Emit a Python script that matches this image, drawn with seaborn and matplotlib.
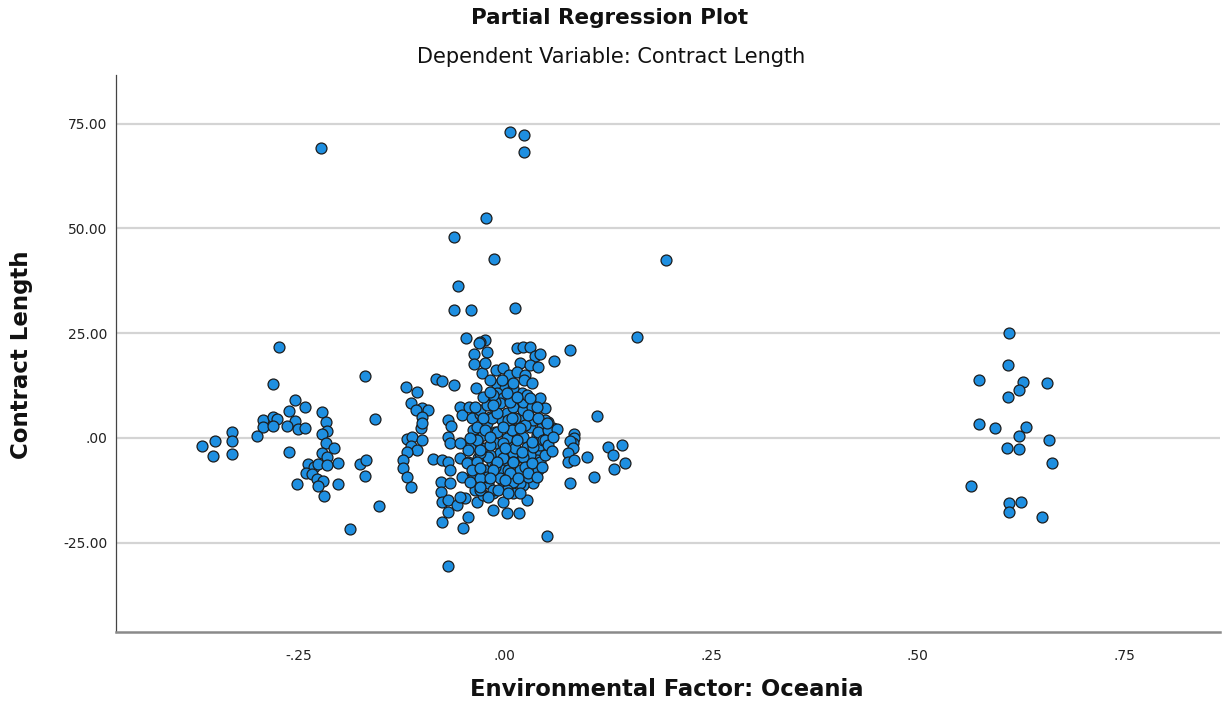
import matplotlib
matplotlib.use("Agg")
import matplotlib.pyplot as plt
import seaborn as sns
import pandas as pd
from matplotlib.ticker import FixedLocator, FuncFormatter

# ---- data ----
oceania_resid = [
    # outliers / upper
    -0.223, 0.006, 0.023, 0.023, -0.023, -0.062, -0.013, 0.195, -0.057, -0.062,
    -0.041, 0.012, 0.160, -0.047, -0.024, -0.030, -0.274, 0.079, -0.169,
    # right group
    0.610, 0.609, 0.574, 0.627, 0.656, 0.623, 0.609, 0.574, 0.593, 0.631,
    0.623, 0.659, 0.608, 0.623, 0.663, 0.564, 0.610, 0.625, 0.610, 0.651,
    # left group
    -0.281, -0.254, -0.242, -0.262, -0.222, -0.217, -0.293, -0.281, -0.276, -0.293,
    -0.281, -0.254, -0.264, -0.251, -0.242, -0.215, -0.222, -0.300, -0.330, -0.330,
    -0.351, -0.367, -0.354, -0.330, -0.262, -0.217, -0.207, -0.222, -0.215, -0.239,
    -0.231, -0.226, -0.215, -0.202, -0.241, -0.234, -0.228, -0.220, -0.226, -0.252,
    -0.202, -0.219, -0.188, -0.176, -0.168, -0.169, -0.157, -0.153,
    # middle-left band
    -0.031, -0.022, -0.038, -0.038, -0.028, -0.084, -0.076, -0.062, -0.035, -0.120,
    -0.107, -0.114, -0.100, -0.093, -0.108, -0.100, -0.102, -0.100, -0.119, -0.113,
    -0.100, -0.114, -0.107, -0.119, -0.123, -0.123, -0.119, -0.114, -0.087, -0.076,
    -0.069, -0.067, -0.054, -0.045, -0.069, -0.065, -0.069, -0.067, -0.054, -0.052,
    -0.044, -0.040, -0.030, -0.039, -0.033, -0.042, -0.054, -0.077, -0.067, -0.077,
    -0.076, -0.069, -0.058, -0.048, -0.069, -0.076, -0.045, -0.051, -0.069, -0.052,
    -0.039, -0.036, -0.034, -0.054, -0.042,
    # central cluster
    0.015, 0.022, 0.030, 0.036, 0.042, 0.018, 0.059, -0.011, -0.002, 0.005,
    0.015, 0.024, 0.023, -0.010, 0.000, -0.010, 0.010, -0.002, 0.010, 0.021,
    0.042, 0.030, 0.048, 0.058, 0.052, 0.057, 0.054, 0.042, 0.040, 0.034,
    0.027, 0.017, 0.002, -0.015, -0.002, 0.010, -0.015, -0.027, -0.021, -0.002,
    0.022, 0.010, -0.008, -0.024, 0.027, 0.002, -0.016, -0.033, 0.018, 0.039,
    -0.006, -0.024, 0.010, 0.027, 0.042, -0.012, 0.002, 0.022, 0.039, -0.027,
    -0.012, 0.010, 0.030, 0.045, -0.034, -0.022, -0.004, 0.015, 0.034, 0.048,
    -0.018, 0.002, 0.022, -0.030, -0.012, 0.010, -0.006, -0.018, 0.021, 0.022,
    0.010, 0.030, -0.018, -0.002, 0.018, 0.018, 0.006,
    0.008, -0.012, 0.022, 0.033, -0.016, 0.004, 0.012, 0.024, -0.024, -0.010,
    0.008, 0.040, 0.046, -0.018, -0.002, 0.012, 0.034, -0.021, -0.002, 0.010,
    0.022, 0.042, -0.012, 0.004, 0.024, -0.022, -0.006, 0.010, 0.028, -0.015,
    0.002, -0.030, -0.030, -0.030, -0.034, -0.022, -0.015, 0.010, 0.027, -0.042,
    -0.045, -0.046, -0.034, -0.040,
    -0.036, -0.027, -0.010, 0.008, 0.028, 0.040, 0.052, -0.002, 0.018, -0.018,
    0.015, 0.033, 0.048, -0.030, 0.000, 0.021, 0.048, -0.010, 0.010, 0.033,
    -0.030, -0.015, 0.006, 0.028, -0.018, 0.000, 0.016, -0.008, 0.004, -0.021,
    0.018, -0.030, 0.039, 0.045, 0.052, 0.039, 0.006, -0.015, -0.027, 0.015,
    0.030, 0.002, -0.018, -0.004, 0.010, -0.018, 0.033, -0.024, 0.030, 0.040,
    # right of centre
    0.111, 0.051, 0.063, 0.058, 0.084, 0.084, 0.082, 0.079, 0.082, 0.057,
    0.077, 0.077, 0.084, 0.099, 0.125, 0.142, 0.131, 0.145, 0.132, 0.108,
    0.079, 0.051,
]

contract_resid = [
    # outliers / upper
    69.2, 73.0, 72.3, 68.3, 52.5, 48.0, 42.7, 42.5, 36.3, 30.5,
    30.5, 31.0, 24.1, 23.9, 23.4, 22.9, 21.7, 21.0, 14.8,
    # right group
    25.0, 17.4, 13.8, 13.4, 13.1, 11.5, 9.8, 3.3, 2.4, 2.6,
    0.5, -0.5, -2.4, -2.6, -6.0, -11.5, -15.5, -15.3, -17.7, -18.9,
    # left group
    12.9, 9.1, 7.4, 6.4, 6.2, 3.8, 4.3, 5.0, 4.5, 2.6,
    2.9, 4.1, 2.9, 2.1, 2.4, 1.7, 1.0, 0.5, 1.4, -0.7,
    -0.7, -1.9, -4.3, -3.8, -3.3, -1.2, -2.4, -3.6, -4.5, -6.2,
    -6.9, -6.2, -6.4, -6.0, -8.4, -8.6, -9.8, -10.3, -11.5, -11.0,
    -11.0, -13.8, -21.7, -6.2, -5.3, -9.1, 4.5, -16.2,
    # middle-left band
    22.7, 20.5, 20.0, 17.7, 15.5, 14.1, 13.6, 12.6, 11.9, 12.2,
    11.0, 8.4, 7.2, 6.7, 6.7, 5.0, 2.4, 3.6, -0.2, 0.2,
    -0.5, -1.9, -2.9, -3.3, -5.3, -7.2, -9.3, -11.7, -5.0, -5.3,
    -5.7, -7.6, -4.8, -5.7, 4.3, 2.9, 0.2, -1.2, 7.4, 5.5,
    7.4, 4.8, 5.7, 1.9, -0.2, -2.1, -1.2, -10.5, -10.7, -12.9,
    -15.3, -14.8, -16.0, -14.3, -17.7, -20.0, -18.9, -21.5, -30.5, -9.3,
    -8.4, -12.4, -15.3, -14.1, -10.5,
    # central cluster
    21.5, 21.7, 21.7, 19.6, 20.0, 17.9, 18.4, 16.2, 16.7, 15.0,
    15.8, 15.0, 13.8, 12.6, 11.9, 10.7, 11.0, 9.5, 9.3, 8.8,
    9.5, 7.4, 7.2, 2.4, 3.8, 0.2, -2.9, -4.1, -7.6, -10.7,
    -14.8, -17.9, -17.9, -17.2, -15.3, -13.1, -13.1, -13.6, -10.7, -11.7,
    -11.2, -9.3, -8.4, -7.6, -6.4, -6.0, -5.7, -4.8, -4.5, -5.3,
    -3.6, -2.4, -2.1, -2.1, -1.7, -1.2, 0.0, 0.2, 0.7, 0.7,
    1.4, 1.9, 2.6, 2.6, 2.6, 3.6, 4.3, 4.3, 4.3, 4.3,
    5.0, 6.0, 5.3, 6.7, 7.2, 7.4, 8.4, 9.5, 10.7, 6.7,
    -3.6, -4.1, -4.1, -7.6, -7.6, -10.7, -10.7,
    10.3, 8.6, 8.6, 7.4, 4.8, 4.3, 4.8, 3.1, 1.9, 1.4,
    1.9, 1.4, -0.5, -1.7, -1.2, -2.4, -2.1, -4.5, -4.8, -5.7,
    -4.5, -5.7, -6.9, -7.6, -6.9, -9.3, -9.5, -10.5, -9.3, -12.4,
    -12.4, -12.4, -9.5, -3.6, -0.5, 7.9, 10.3, 11.9, 10.3, 0.0,
    -2.9, -6.0, -5.7, -7.6,
    7.4, 4.8, 6.0, 4.8, 5.5, 4.8, 1.9, 2.6, 2.4, 0.2,
    -0.5, -1.0, -0.5, -2.9, -2.4, -3.3, -4.1, -5.7, -5.7, -6.0,
    -7.2, -7.6, -8.4, -8.4, -9.5, -10.0, -9.5, -12.4, -13.1, -14.1,
    -13.1, -11.7, -9.3, -6.9, -1.7, 7.4, 8.6, 7.9, 9.8, 9.8,
    9.5, 10.7, 11.0, 13.8, 13.1, 13.8, 13.1, 17.9, 17.4, 16.9,
    # right of centre
    5.3, 3.6, 2.1, 0.2, 1.0, 0.0, -1.2, -0.7, -2.4, -3.1,
    -3.6, -5.7, -5.3, -4.5, -2.1, -1.7, -4.1, -6.0, -7.4, -9.3,
    -10.7, -23.4,
]

x_ticks = [-0.25, 0.0, 0.25, 0.50, 0.75]
y_ticks = [-25, 0, 25, 50, 75]

df = pd.DataFrame({"Environmental Factor: Oceania": oceania_resid,
                   "Contract Length": contract_resid})

sns.set_theme(style="white")
plt.rcParams['font.family'] = ['DejaVu Sans']

fig = plt.figure(figsize=(12.28, 7.09), dpi=100)
ax = fig.add_axes([116/1228, 1-632/709, (1220-116)/1228, (632-75)/709])

sns.scatterplot(data=df, x="Environmental Factor: Oceania", y="Contract Length",
                ax=ax, s=62, color="#1E8FE1", edgecolor="#1c1c1c", linewidth=0.9,
                zorder=3, legend=False)

ax.set_xlim(-0.471, 0.866)
ax.set_ylim(-46.3, 86.6)
ax.yaxis.set_major_locator(FixedLocator(y_ticks))
ax.xaxis.set_major_locator(FixedLocator(x_ticks))

def fmt_x(v, pos):
    s = f"{v:.2f}"
    return s.replace("0.", ".", 1) if abs(v) < 1 else s

def fmt_y(v, pos):
    s = f"{v:.2f}"
    if abs(v) < 1:
        s = s.replace("0.", ".", 1)
    return s

ax.xaxis.set_major_formatter(FuncFormatter(fmt_x))
ax.yaxis.set_major_formatter(FuncFormatter(fmt_y))
ax.tick_params(axis="both", length=0, labelsize=10, colors="#222222")
ax.tick_params(axis="y", pad=6)
ax.tick_params(axis="x", pad=12)

ax.grid(False)
for yv in y_ticks:
    ax.axhline(yv, color="#d4d4d4", linewidth=1.6, zorder=1)

for side in ["top", "right"]:
    ax.spines[side].set_visible(False)
ax.spines["left"].set_color("#444444")
ax.spines["left"].set_linewidth(0.9)
ax.spines["bottom"].set_color("#8a8a8a")
ax.spines["bottom"].set_linewidth(1.8)

ax.set_xlabel("")
ax.set_ylabel("")
fig.text(667/1228, 1-690/709, "Environmental Factor: Oceania", ha="center", va="center",
         fontsize=16.3, fontweight="semibold", color="#111111")
fig.text(22/1228, 1-355/709, "Contract Length", ha="center", va="center", rotation=90,
         fontsize=16.5, fontweight="semibold", color="#111111")
fig.text(610/1228, 1-18/709, "Partial Regression Plot", ha="center", va="center",
         fontsize=15.5, fontweight="semibold", color="#111111")
fig.text(611/1228, 1-57/709, "Dependent Variable: Contract Length", ha="center", va="center",
         fontsize=15, color="#111111")

fig.savefig("out.png", dpi=100)
